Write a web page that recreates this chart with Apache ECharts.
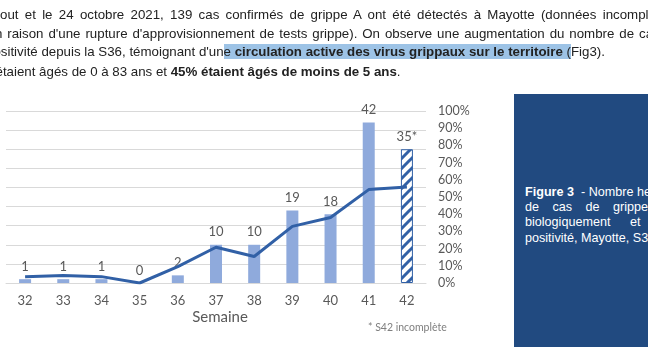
<!DOCTYPE html>
<html>
<head>
<meta charset="utf-8">
<script src="https://cdn.jsdelivr.net/npm/echarts@6/dist/echarts.min.js"></script>
<style>
html,body{margin:0;padding:0;background:#fff;}
#wrap{position:relative;width:648px;height:352px;overflow:hidden;}
#main{position:absolute;left:0;top:0;width:648px;height:352px;}
.txt{position:absolute;white-space:pre;font-family:"Liberation Sans",Arial,sans-serif;font-size:13.3px;color:#222;line-height:18px;}
.hl{background:#9DC3E6;}
#box{position:absolute;left:514px;top:94px;width:140px;height:253px;background:#214A80;}
.cap{position:absolute;left:525px;white-space:pre;font-family:"Liberation Sans",Arial,sans-serif;font-size:12.6px;color:#fff;line-height:15px;}
</style>
</head>
<body>
<div id="wrap">
	<div id="main"></div>
	<div class="txt" style="left:0;top:6px;word-spacing:2.6px;">out et le 24 octobre 2021, 139 cas confirmés de grippe A ont été détectés à Mayotte (données incomplètes</div>
	<div class="txt" style="left:-5px;top:25px;word-spacing:1.2px;">n raison d'une rupture d'approvisionnement de tests grippe). On observe une augmentation du nombre de cas</div>
	<div class="txt" style="left:-14px;top:43px;">positivité depuis la S36, témoignant d'un<span class="hl">e <b>circulation active des virus grippaux sur le territoire</b> (</span>Fig3).</div>
	<div class="txt" style="left:-4.5px;top:63px;">étaient âgés de 0 à 83 ans et <b>45% étaient âgés de moins de 5 ans</b>.</div>
	<div id="box"></div>
	<div class="cap" style="top:185px;"><b>Figure 3</b>  - Nombre hebdomadaire</div>
	<div class="cap" style="top:200px;word-spacing:10px;">de cas de grippe confirmés</div>
	<div class="cap" style="top:215px;word-spacing:16px;">biologiquement et taux de</div>
	<div class="cap" style="top:231px;">positivité, Mayotte, S32 à S42</div>
</div>
<script>
// semaines S32 -> S42
var weeks = ['32', '33', '34', '35', '36', '37', '38', '39', '40', '41', '42'];
// nombre de cas confirmés
var cases = [1, 1, 1, 0, 2, 10, 10, 19, 18, 42, 35];
var caseLabels = ['1', '1', '1', '0', '2', '10', '10', '19', '18', '42', '35*'];
// taux de positivité (%)
var positivity = [3.7, 4.3, 3.7, 0, 9.5, 20.8, 15.4, 32.9, 38.1, 54.3, 55.8];
var pctTicks = ['0%', '10%', '20%', '30%', '40%', '50%', '60%', '70%', '80%', '90%', '100%'];

var gray = '#595959';
var dark = '#3160A6';

/*hachures pour S42 incomplete*/
var hatch = document.createElement('canvas');
hatch.width = 10;
hatch.height = 10;
var hc = hatch.getContext('2d');
hc.fillStyle = '#fff';
hc.fillRect(0, 0, 10, 10);
hc.strokeStyle = dark;
hc.lineWidth = 3;
hc.beginPath();
hc.moveTo(-1, 11); hc.lineTo(11, -1);
hc.moveTo(-6, 6); hc.lineTo(6, -6);
hc.moveTo(4, 16); hc.lineTo(16, 4);
hc.stroke();

var barData = [];
for (var i = 0; i < cases.length; i++) {
	if (i == cases.length - 1) {
		barData.push({
			value: cases[i],
			itemStyle: {color: {image: hatch, repeat: 'repeat'}, borderColor: dark, borderWidth: 1}
		});
	} else {
		barData.push(cases[i]);
	}
}

var myChart = echarts.init(document.getElementById('main'));
var option = {
	animation: false,
	textStyle: {fontFamily: 'Lato'},
	grid: {left: 6, right: 222, top: 111, bottom: 69},
	xAxis: {
		type: 'category',
		data: weeks,
		axisLine: {lineStyle: {color: '#d9d9d9'}},
		axisTick: {show: false},
		axisLabel: {color: gray, fontSize: 13, margin: 11},
		name: 'Semaine',
		nameLocation: 'middle',
		nameGap: 27,
		nameTextStyle: {color: gray, fontSize: 15, padding: [0, 0, 0, 8]}
	},
	yAxis: [{
		type: 'value', min: 0, max: 45, interval: 5,
		axisLabel: {show: false},
		axisLine: {show: false},
		axisTick: {show: false},
		splitLine: {lineStyle: {color: '#d9d9d9'}}
	}, {
		type: 'value', min: 0, max: 100, interval: 10, position: 'right',
		axisLabel: {
			color: gray, fontSize: 12.5, margin: 12,
			formatter: function(v) { return pctTicks[Math.round(v / 10)]; }
		},
		axisLine: {show: false},
		axisTick: {show: false},
		splitLine: {show: false}
	}],
	series: [{
		name: 'cas',
		type: 'bar',
		barWidth: 12,
		itemStyle: {color: '#8FAADC'},
		label: {
			show: true, position: 'top', distance: 6, color: gray, fontSize: 13,
			formatter: function(p) { return caseLabels[p.dataIndex]; }
		},
		data: barData
	}, {
		name: 'positivite',
		type: 'line',
		yAxisIndex: 1,
		showSymbol: false,
		lineStyle: {color: dark, width: 3},
		z: 3,
		data: positivity
	}],
	graphic: [{
		type: 'text',
		left: 368,
		top: 322,
		style: {text: '* S42 incomplète', fill: '#7f7f7f', fontSize: 10.5, fontFamily: 'Lato'}
	}]
};
myChart.setOption(option);
</script>
</body>
</html>
